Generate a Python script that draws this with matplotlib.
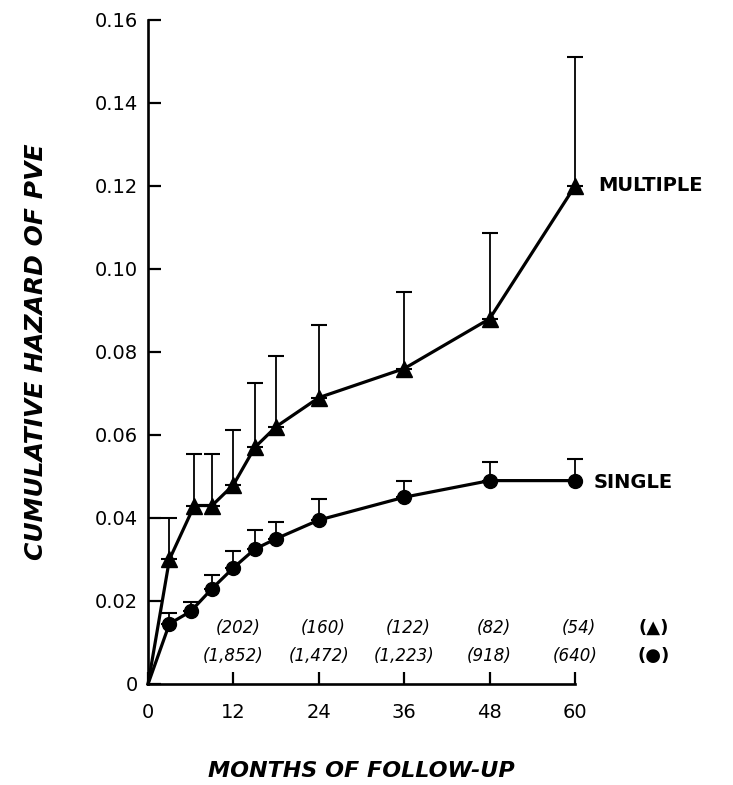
import matplotlib
matplotlib.use('Agg')
import matplotlib.pyplot as plt

# cumulative hazard of PVE, multiple vs single
months_mult = [0, 3, 6.5, 9, 12, 15, 18, 24, 36, 48, 60]
hazard_mult = [0, 0.030, 0.043, 0.043, 0.048, 0.057, 0.062, 0.069, 0.076, 0.088, 0.120]
upper_mult = [0, 0.040, 0.0553, 0.0553, 0.0613, 0.0725, 0.079, 0.0865, 0.0945, 0.1087, 0.151]

months_single = [0, 3, 6, 9, 12, 15, 18, 24, 36, 48, 60]
hazard_single = [0, 0.0145, 0.0175, 0.023, 0.028, 0.0325, 0.035, 0.0395, 0.045, 0.049, 0.049]
upper_single = [0, 0.0170, 0.0198, 0.0262, 0.0320, 0.0372, 0.0390, 0.0445, 0.0490, 0.0535, 0.0542]

count_months = [12, 24, 36, 48, 60]
count_mult = ['(202)', '(160)', '(122)', '(82)', '(54)']
count_single = ['(1,852)', '(1,472)', '(1,223)', '(918)', '(640)']

x_ticks = [0, 12, 24, 36, 48, 60]
y_ticks = [0, 0.02, 0.04, 0.06, 0.08, 0.10, 0.12, 0.14, 0.16]
y_ticklabels = ['0', '0.02', '0.04', '0.06', '0.08', '0.10', '0.12', '0.14', '0.16']

plt.rcParams['font.family'] = ['DejaVu Sans']

fig = plt.figure(figsize=(7.33, 7.85), dpi=100)
ax = fig.add_axes([0.202, 0.1287, 0.5825, 0.8459])

for m, h, u, mk, ms in [(months_mult, hazard_mult, upper_mult, '^', 12),
                        (months_single, hazard_single, upper_single, 'o', 10)]:
    err = [ui - hi for ui, hi in zip(u, h)]
    ax.errorbar(m[1:], h[1:], yerr=[[0] * (len(m) - 1), err[1:]], fmt='none',
                ecolor='black', elinewidth=1.3, capsize=6, capthick=1.5,
                clip_on=False, zorder=2)
    ax.plot(m, h, color='black', lw=2.3, marker=mk, markersize=ms,
            markevery=list(range(1, len(m))), clip_on=False, zorder=3)

ax.text(63.3, 0.120, 'MULTIPLE', fontsize=14, fontweight='bold', va='center', ha='left')
ax.text(62.6, 0.0485, 'SINGLE', fontsize=14, fontweight='bold', va='center', ha='left')

for x, a, b in zip(count_months, count_mult, count_single):
    ax.text(x + 0.6, 0.0135, a, fontsize=12, style='italic', ha='center', va='center')
    ax.text(x, 0.0068, b, fontsize=12, style='italic', ha='center', va='center')
ax.text(71, 0.0135, '(▲)', fontsize=13, fontweight='bold', ha='center', va='center')
ax.text(71, 0.0068, '(●)', fontsize=13, fontweight='bold', ha='center', va='center')

ax.set_xlim(0, 60)
ax.set_ylim(0, 0.16)
ax.set_xticks(x_ticks)
ax.set_xticklabels([str(t) for t in x_ticks], fontsize=14)
ax.set_yticks(y_ticks)
ax.set_yticklabels(y_ticklabels, fontsize=14)
ax.tick_params(axis='x', direction='in', length=9, width=1.6, pad=14)
ax.tick_params(axis='y', direction='in', length=9, width=1.6, pad=7)
for s in ['top', 'right']:
    ax.spines[s].set_visible(False)
for s in ['left', 'bottom']:
    ax.spines[s].set_linewidth(1.9)

ax.set_xlabel('MONTHS OF FOLLOW-UP', fontsize=16, style='italic', fontweight='bold', labelpad=28)
ax.set_ylabel('CUMULATIVE HAZARD OF PVE', fontsize=18, style='italic', fontweight='bold', labelpad=34)

fig.savefig('out.png', dpi=100)
